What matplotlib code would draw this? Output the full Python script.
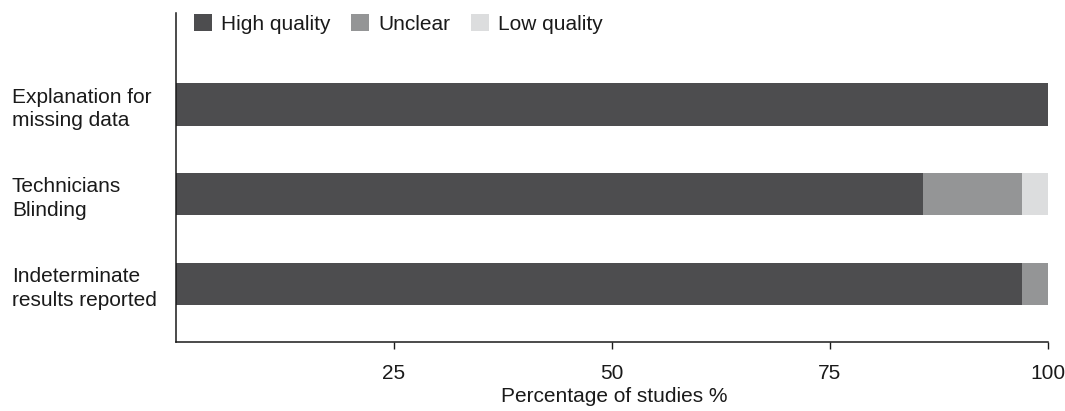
import matplotlib
matplotlib.use("Agg")
import matplotlib.pyplot as plt
import numpy as np

categories = ["Explanation for\nmissing data", "Technicians\nBlinding", "Indeterminate\nresults reported"]
high_quality = [100.0, 85.7, 97.1]
unclear = [0.0, 11.4, 2.9]
low_quality = [0.0, 2.9, 0.0]
series_names = ["High quality", "Unclear", "Low quality"]
xticks = [25, 50, 75, 100]
xlabel = "Percentage of studies %"

colors = ["#4d4d4f", "#949596", "#dcddde"]

plt.rcParams['font.family'] = ['Liberation Sans', 'DejaVu Sans']
plt.rcParams['font.size'] = 15

fig = plt.figure(figsize=(10.65, 4.11), dpi=100)
W, H = 1065, 411
left, right, top, bottom = 176, 1052, 13, 342
ax = fig.add_axes([left / W, (H - bottom) / H, (right - left) / W, (bottom - top) / H])

y = np.arange(len(categories))
h = 0.47
lefts = np.zeros(len(categories))
for vals, name, c in zip([high_quality, unclear, low_quality], series_names, colors):
    ax.barh(y, vals, left=lefts, height=h, color=c, label=name, edgecolor='none')
    lefts = lefts + np.array(vals)

ax.set_xlim(0, 100.5)
ax.set_ylim(2.646, -1.02)
ax.spines['top'].set_visible(False)
ax.spines['right'].set_visible(False)
ax.spines['bottom'].set_bounds(0, 100)
for s in ['left', 'bottom']:
    ax.spines[s].set_linewidth(1.1)
    ax.spines[s].set_color('#1a1a1a')

ax.set_xticks(xticks)
ax.set_xticklabels([str(t) for t in xticks])
ax.tick_params(axis='x', direction='out', length=5, width=1.0, pad=11, colors='#1a1a1a', labelsize=15)
ax.set_yticks(y)
ax.set_yticklabels(categories)
ax.tick_params(axis='y', length=0, pad=(left - 12) * 0.72, labelsize=15, colors='#1a1a1a')
for lab in ax.get_yticklabels():
    lab.set_ha('left')
    lab.set_multialignment('left')
    lab.set_linespacing(1.3)

ax.set_xlabel(xlabel, fontsize=15, labelpad=3, color='#1a1a1a')

leg = ax.legend(loc='center left', bbox_to_anchor=(194 / W, 1 - 24 / H), bbox_transform=fig.transFigure,
                ncol=3, frameon=False, borderpad=0, handlelength=0.86, handleheight=0.86,
                handletextpad=0.43, columnspacing=1.0, fontsize=15, borderaxespad=0)
for t in leg.get_texts():
    t.set_color('#1a1a1a')

fig.savefig("out.png", dpi=100)
